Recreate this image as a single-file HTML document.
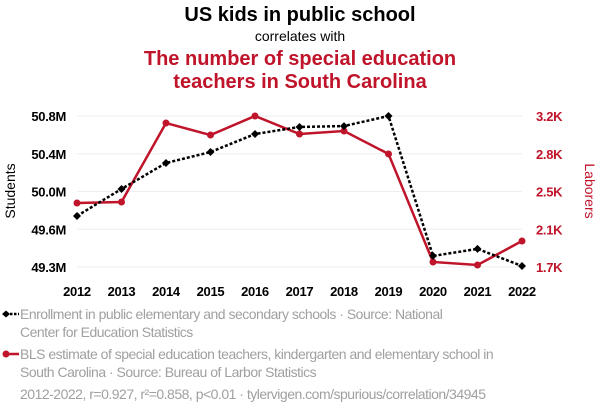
<!DOCTYPE html>
<html><head><meta charset="utf-8"><style>
body{margin:0;width:600px;height:414px;background:#fff;font-family:"Liberation Sans",sans-serif;overflow:hidden}
svg{display:block}
.leg{position:absolute;left:20px;font-size:14px;letter-spacing:-0.5px;color:#a0a0a0;line-height:18px;width:570px}
</style></head><body>
<div style="position:relative;width:600px;height:414px">
<svg id="c" width="600" height="414">
<text x="300" y="21" text-anchor="middle" font-size="20" font-weight="bold" fill="#000">US kids in public school</text>
<text x="300" y="41" text-anchor="middle" font-size="14" fill="#000">correlates with</text>
<text x="300" y="65" text-anchor="middle" font-size="20" font-weight="bold" fill="#c0142a">The number of special education</text>
<text x="300" y="88" text-anchor="middle" font-size="20" font-weight="bold" fill="#c0142a">teachers in South Carolina</text>
<text transform="translate(15,191) rotate(-90)" text-anchor="middle" font-size="14" fill="#000">Students</text>
<text transform="translate(585,191) rotate(90)" text-anchor="middle" font-size="14" fill="#c0142a">Laborers</text>
<g id="g"></g>
</svg>
<div class="leg" style="top:305px">
<span style="position:absolute;left:-18px;top:0"><svg width="18" height="18"><line x1="4" y1="9" x2="17" y2="9" stroke="#000" stroke-width="2.5" stroke-dasharray="2.5,1.5"/><path d="M0 9 L4 5.5 L8 9 L4 12.5Z" fill="#000"/></svg></span>
Enrollment in public elementary and secondary schools · Source: National<br>Center for Education Statistics</div>
<div class="leg" style="top:345px">
<span style="position:absolute;left:-18px;top:0"><svg width="18" height="18"><line x1="4" y1="9" x2="17" y2="9" stroke="#c0142a" stroke-width="2.5"/><circle cx="4" cy="9" r="3.5" fill="#c0142a"/></svg></span>
BLS estimate of special education teachers, kindergarten and elementary school in<br>South Carolina · Source: Bureau of Larbor Statistics</div>
<div class="leg" style="top:385px">2012-2022, r=0.927, r²=0.858, p&lt;0.01 · tylervigen.com/spurious/correlation/34945</div>
</div>
<script>
const years=[2012,2013,2014,2015,2016,2017,2018,2019,2020,2021,2022];
const students=[49.807,50.075,50.333,50.442,50.621,50.691,50.70,50.8,49.41,49.48,49.31];
const teachers=[2336,2346,3130,3011,3200,3021,3051,2823,1750,1720,1958];
const leftTicks=[49.3,49.675,50.05,50.425,50.8];
const leftLabels=["49.3M","49.6M","50.0M","50.4M","50.8M"];
const rightTicks=[1700,2075,2450,2825,3200];
const rightLabels=["1.7K","2.1K","2.5K","2.8K","3.2K"];
const NS="http://www.w3.org/2000/svg",g=document.getElementById('g');
const x=i=>77+(i-years[0])*44.5;
const yL=v=>267-(v-49.3)/1.5*151;
const yR=v=>267-(v-1700)/1500*151;
function el(t,a,txt){const e=document.createElementNS(NS,t);for(const k in a)e.setAttribute(k,a[k]);if(txt!=null)e.textContent=txt;g.appendChild(e);return e;}
leftTicks.forEach((t,i)=>{
const gl=el('line',{x1:77,x2:522,y1:yL(t),y2:yL(t),stroke:'#eeeeee'});


const a=el('text',{x:66,y:yL(t)+5,'text-anchor':'end','font-size':13,'font-weight':'bold',fill:'#000','letter-spacing':'-0.3'},leftLabels[i]);


});
rightTicks.forEach((t,i)=>{
const a=el('text',{x:536,y:yR(t)+5,'font-size':13,'font-weight':'bold',fill:'#c0142a','letter-spacing':'-0.3'},rightLabels[i]);


});
years.forEach(yy=>{
const a=el('text',{x:x(yy),y:296,'text-anchor':'middle','font-size':13,'font-weight':'bold',fill:'#000','letter-spacing':'-0.3'},yy);


});
const rl=el('polyline',{points:years.map((yy,i)=>x(yy)+','+yR(teachers[i])).join(' '),fill:'none',stroke:'#c0142a','stroke-width':2.5});


const bl=el('polyline',{points:years.map((yy,i)=>x(yy)+','+yL(students[i])).join(' '),fill:'none',stroke:'#000','stroke-width':2.5,'stroke-dasharray':'3,2'});


years.forEach((yy,i)=>{
const c=el('circle',{cx:x(yy),cy:yR(teachers[i]),r:3.5,fill:'#c0142a'});


const px=x(yy),py=yL(students[i]);
const d=el('path',{d:`M${px-4} ${py} L${px} ${py-4} L${px+4} ${py} L${px} ${py+4}Z`,fill:'#000'});


});
</script>
</body></html>
